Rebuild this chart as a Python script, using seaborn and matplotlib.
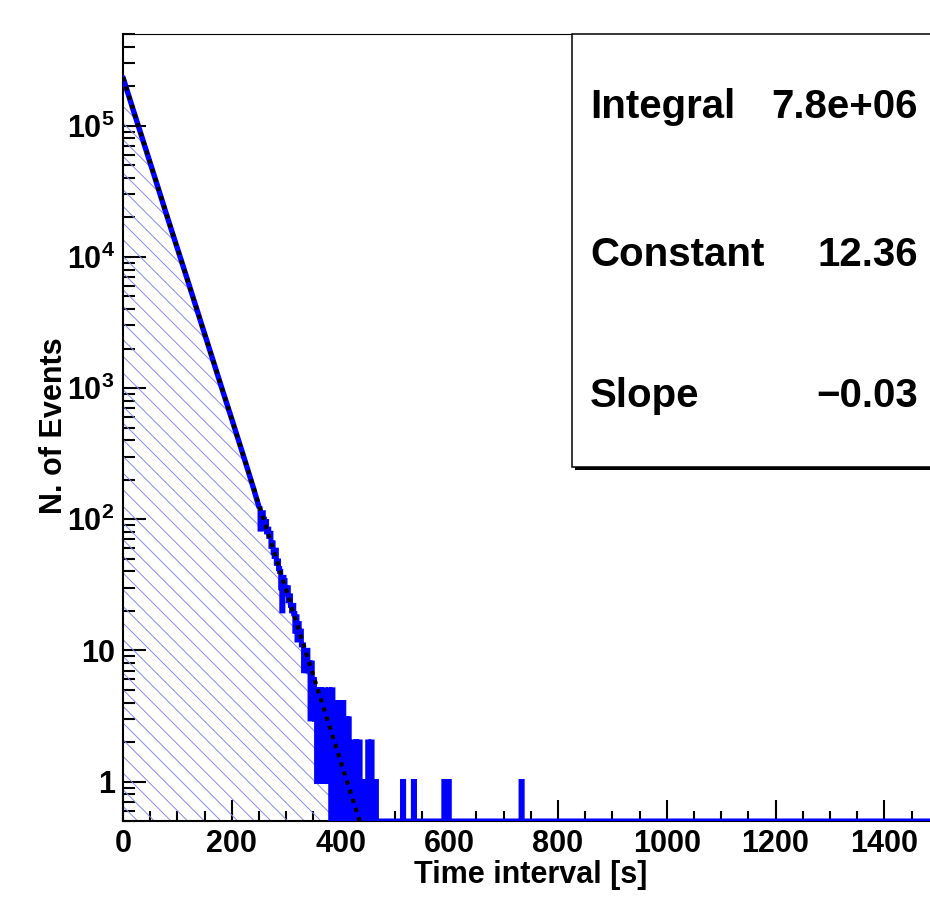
import numpy as np
import matplotlib
matplotlib.use("Agg")
import matplotlib.pyplot as plt
import seaborn as sns
from matplotlib.patches import Rectangle
from matplotlib.ticker import FixedLocator, FixedFormatter, LogLocator, MultipleLocator, NullFormatter

# smooth part of the histogram: counts per 1 s bin
decay_t = [0, 20, 40, 60, 80, 100, 120, 140, 160, 180, 200, 220, 240, 250]
decay_n = [233000, 127000, 70000, 38500, 21000, 11600, 6400, 3500, 1920, 1050, 580, 318, 172, 124]

# noisy tail, 2 s bins from 250 s to 470 s
tail_start = 250
tail_width = 2
tail_n = [120, 84, 86, 112, 100, 92, 96, 80, 84, 74,
          78, 62, 66, 56, 52, 58, 46, 48, 42, 40,
          30, 20, 36, 34, 30, 27, 30, 24, 26, 22,
          20, 22, 19, 14, 18, 12, 16, 13, 14, 11,
          11, 7, 9, 7, 10, 7, 8,
          3, 8, 4, 6, 3, 5,
          1, 5, 2, 5, 1, 4, 2, 5, 1, 3, 1, 5, 2,
          0, 5, 0, 2, 4, 0, 3, 1, 4, 0, 2, 4, 1, 0, 3, 1, 3, 0, 1, 0, 1, 2,
          0, 2, 1, 0, 2, 1, 0, 1, 0, 1, 0, 1, 2, 0, 1, 2, 0, 1, 0, 1, 0, 0]
# lone single-count bins further out (left edge, s)
lone_t = [514, 534, 590, 594, 598, 732]
x_max = 1500

# fit result shown in the stats box
fit_const = 12.36
fit_slope = -0.03
stats_names = ["Integral", "Constant", "Slope"]
stats_values = ["7.8e+06", "12.36", "\u22120.03"]

y_ticks = [1, 10, 100, 1e3, 1e4, 1e5]
y_ticklabels = ["1", "10", r"$10^{2}$", r"$10^{3}$", r"$10^{4}$", r"$10^{5}$"]
y_min, y_max = 0.5, 5e5

BLUE = "#0000ff"
HATCH = "#8c8ce6"

sns.set_style("ticks")
plt.rcParams["font.family"] = ["Liberation Sans", "DejaVu Sans"]
plt.rcParams["font.weight"] = "bold"
plt.rcParams["text.color"] = "black"
plt.rcParams["axes.labelcolor"] = "black"
plt.rcParams["mathtext.fontset"] = "custom"
plt.rcParams["mathtext.rm"] = "Liberation Sans:bold"
plt.rcParams["mathtext.bf"] = "Liberation Sans:bold"
plt.rcParams["mathtext.default"] = "bf"
plt.rcParams["hatch.linewidth"] = 0.7

fig = plt.figure(figsize=(9.3, 9.0), dpi=100)
ax = fig.add_axes([123 / 930, 79 / 900, 1500 * 0.5438 / 930, 787 / 900])

# full tail histogram on a 2 s grid
n_bins = (x_max - tail_start) // tail_width
counts = np.zeros(n_bins)
counts[:len(tail_n)] = tail_n
for t in lone_t:
    counts[(t - tail_start) // tail_width] = 1
edges = tail_start + tail_width * np.arange(n_bins + 1)

# hatched area: stops at the first empty bin
first_zero = int(np.argmax(counts == 0))
ax.fill_between(decay_t, y_min, decay_n, facecolor="none", edgecolor=HATCH,
                hatch="\\\\", linewidth=0, zorder=1)
head_x = edges[:first_zero + 1]
head_y = np.append(counts[:first_zero], counts[first_zero - 1])
ax.fill_between(head_x, y_min, head_y, step="post", facecolor="none",
                edgecolor=HATCH, hatch="\\\\", linewidth=0, zorder=1)

# histogram outline
sns.lineplot(x=decay_t, y=decay_n, ax=ax, color=BLUE, linewidth=3.9, zorder=3,
             sort=False, estimator=None)
ax.stairs(np.clip(counts, y_min, None), edges, baseline=None, color=BLUE,
          linewidth=3.6, zorder=3)

# exponential fit (straight on log axis)
t_fit = np.array([0.0, 500.0])
sns.lineplot(x=t_fit, y=np.exp(fit_const + fit_slope * t_fit), ax=ax, color="black",
             linewidth=3.0, linestyle=(0, (1, 1.3)), zorder=4, estimator=None)

ax.set_yscale("log")
ax.set_xlim(0, x_max)
ax.set_ylim(y_min, y_max)

ax.xaxis.set_major_locator(MultipleLocator(200))
ax.xaxis.set_minor_locator(MultipleLocator(50))
ax.yaxis.set_major_locator(FixedLocator(y_ticks))
ax.yaxis.set_major_formatter(FixedFormatter(y_ticklabels))
ax.yaxis.set_minor_locator(LogLocator(base=10, subs=np.arange(2, 10), numticks=30))
ax.yaxis.set_minor_formatter(NullFormatter())

ax.tick_params(which="both", direction="in", top=False, right=False, width=1.5,
               colors="black", labelsize=22)
ax.tick_params(axis="y", which="major", length=16.5, pad=6)
ax.tick_params(axis="y", which="minor", length=8.6)
ax.tick_params(axis="x", which="major", length=15, pad=6)
ax.tick_params(axis="x", which="minor", length=7.2)
for lab in ax.get_xticklabels() + ax.get_yticklabels():
    lab.set_fontweight("bold")

for side in ["left", "bottom"]:
    ax.spines[side].set_linewidth(1.5)
    ax.spines[side].set_color("black")
ax.spines["top"].set_linewidth(0.8)
ax.spines["top"].set_color("black")
ax.spines["right"].set_visible(False)

ax.set_xlabel("Time interval [s]", fontsize=22, fontweight="bold")
ax.set_ylabel("N. of Events", fontsize=22, fontweight="bold")
ax.xaxis.set_label_coords(0.5, -0.05)
ax.yaxis.set_label_coords(-0.066, 0.502)

# stats box with shadow, cut by the right edge like the original
bx, by = 572 / 930, (900 - 467) / 900
bh = (467 - 34) / 900
fig.add_artist(Rectangle((bx + 2.5 / 930, by - 2.5 / 900), 0.5, bh, transform=fig.transFigure,
                         facecolor="black", edgecolor="black", linewidth=0, zorder=5))
fig.add_artist(Rectangle((bx, by), 0.5, bh, transform=fig.transFigure,
                         facecolor="white", edgecolor="black", linewidth=1.1, zorder=6))
row_base = [117.5, 266.5, 407.5]
for name, val, yb in zip(stats_names, stats_values, row_base):
    fig.text(590 / 930, (900 - yb) / 900, name, fontsize=29, fontweight="bold",
             ha="left", va="baseline", zorder=7)
    fig.text(918 / 930, (900 - yb) / 900, val, fontsize=29, fontweight="bold",
             ha="right", va="baseline", zorder=7)

fig.savefig("out.png", dpi=100)
